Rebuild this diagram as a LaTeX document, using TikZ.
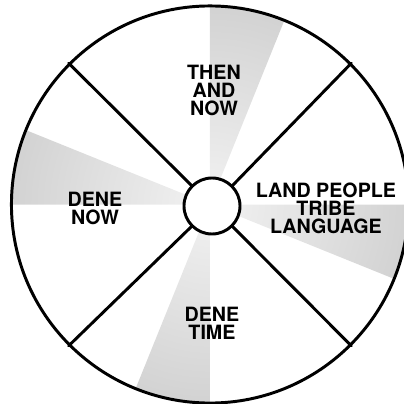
\documentclass[tikz,border=0pt]{standalone}
\usepackage{fontspec}
\setsansfont{TeX Gyre Heros}
\usetikzlibrary{calc}

\tikzset{
  label text/.style={align=center, font=\sffamily\bfseries\fontsize{14}{12.8}\selectfont},
  wheel line/.style={line width=2.1pt}
}

\begin{document}
\begin{tikzpicture}[x=0.025cm, y=0.025cm, line cap=round, line join=round]
  \def\R{198.5}     % outer radius
  \def\w{22}        % width of a grey sector (degrees)

  \useasboundingbox (0,0) rectangle (404,404);
  \clip (0,0) rectangle (404,404);

  \coordinate (C) at (210,199.5);
  \coordinate (H) at (212,198);

  % Grey sectors, fading towards the middle
  \foreach \a in {68,158,248,338} {
    \begin{scope}
      \clip (C) -- ++(\a:\R) arc[start angle=\a, end angle=\a+\w, radius=\R] -- cycle;
      \shade[inner color=gray!10, outer color=gray!35] (C) circle (\R);
    \end{scope}
  }

  % Wheel
  \node[wheel line, draw, circle, minimum size=9.925cm, inner sep=0pt] (rim) at (C) {};
  \node[wheel line, draw, circle, fill=white, minimum size=1.4cm, inner sep=0pt] (hub) at (H) {};

  % Spokes
  \foreach \a in {45,135,225,315}
    \draw[wheel line] (hub.\a) -- (rim.\a);

  % Labels
  \node[label text] (then) at (214,314) {THEN\\AND\\NOW};
  \node[label text] (denenow) at (95,196) {DENE\\NOW};
  \node[label text] (land) at (326,196) {LAND PEOPLE\\TRIBE\\LANGUAGE};
  \node[label text] (denetime) at (212,81) {DENE\\TIME};
\end{tikzpicture}
\end{document}
